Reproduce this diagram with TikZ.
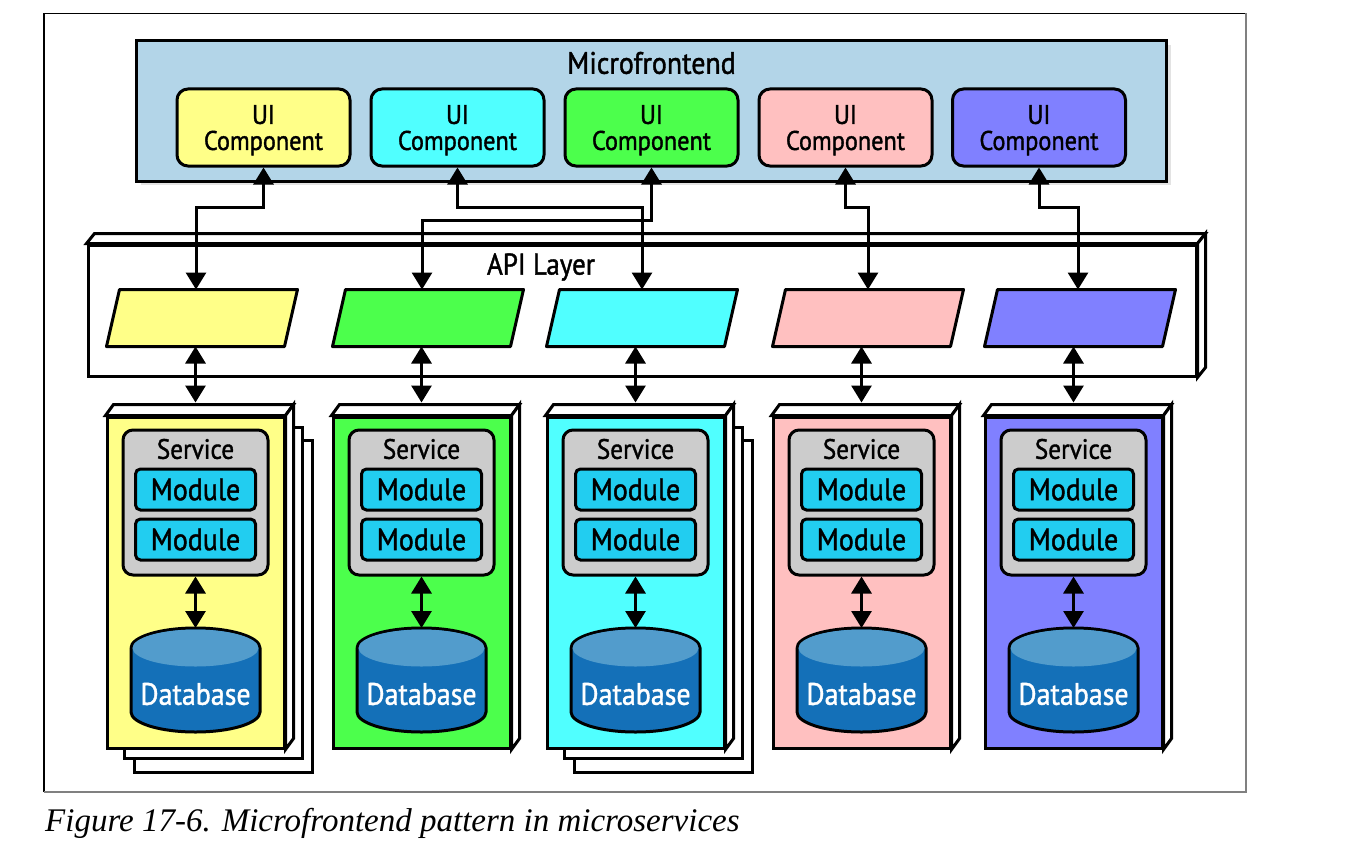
\documentclass[tikz,border=0pt]{standalone}
\usepackage{fontspec}
\setmainfont{Liberation Serif}
\newfontfamily\diagfont{PT Sans}[FakeStretch=0.9, FakeBold=1.3]
\usepackage{tikz}
\usetikzlibrary{arrows.meta, shadows, positioning}
\tikzset{>={Triangle[width=20pt,length=17pt]}}

\definecolor{mfblue}{HTML}{B3D5E8}
\definecolor{yel}{HTML}{FFFF88}
\definecolor{cyn}{HTML}{50FFFF}
\definecolor{grn}{HTML}{4CFF4C}
\definecolor{pnk}{HTML}{FFC0C0}
\definecolor{vio}{HTML}{8080FF}
\definecolor{svcgray}{HTML}{CCCCCC}
\definecolor{modblue}{HTML}{22CDF0}
\definecolor{dbbody}{HTML}{1470B8}
\definecolor{dbtop}{HTML}{529CCC}

\begin{document}
\begin{tikzpicture}[x=1pt,y=-1pt]
    % Define node styles
    \tikzstyle{box} = [draw, line width=3pt, inner sep=0pt]
    \tikzstyle{mfbox} = [box, fill=mfblue, minimum width=1030pt, minimum height=140pt, drop shadow={shadow xshift=4pt, shadow yshift=-4pt, opacity=0.22}]
    \tikzstyle{uibox} = [box, rounded corners=11pt, minimum width=173pt, minimum height=77pt, align=center, text depth=0pt, font=\diagfont\fontsize{27}{26}\selectfont]
    \tikzstyle{title} = [inner sep=0pt, font=\diagfont\fontsize{31}{31}\selectfont]
    \tikzstyle{para} = [inner sep=0pt, outer sep=0pt, minimum width=191pt, minimum height=57pt]
    \tikzstyle{slant} = [line width=3pt, line join=round]
    \tikzstyle{col} = [box, minimum width=177pt, minimum height=331pt]
    \tikzstyle{face} = [fill=white, line width=3pt]
    \tikzstyle{stack} = [fill=white, line width=3pt]
    \tikzstyle{svc} = [box, fill=svcgray, rounded corners=10pt, minimum width=145pt, minimum height=145pt]
    \tikzstyle{svctext} = [inner sep=0pt, font=\diagfont\fontsize{28}{28}\selectfont]
    \tikzstyle{module} = [box, fill=modblue, rounded corners=5pt, minimum width=120pt, minimum height=41pt, font=\diagfont\fontsize{31}{31}\selectfont]
    \tikzstyle{db} = [inner sep=0pt, outer sep=0pt, minimum width=129pt, minimum height=104pt]
    \tikzstyle{dbside} = [line width=3pt, fill=dbbody]
    \tikzstyle{dbtext} = [inner sep=0pt, text=white, font=\diagfont\fontsize{31}{31}\selectfont]
    \tikzstyle{link} = [<->, line width=3pt]

    \useasboundingbox (0,0) rectangle (1348,856);

    % Figure frame
    \draw[line width=1.2pt] (44,792) -- (44,13.5) -- (1246,13.5);
    \draw[line width=1.2pt, gray] (1246,13.5) -- (1246,792) -- (44,792);

    % Microfrontend (mf)
    \node[mfbox] (mf) at (651.5,111) {};
    \node[title] (mftitle) at (651.5,63) {Microfrontend};
    \node[uibox, fill=yel] (ui1) at (263.5,127.5) {UI\\Component};
    \node[uibox, fill=cyn] (ui2) at (457.5,127.5) {UI\\Component};
    \node[uibox, fill=grn] (ui3) at (651.5,127.5) {UI\\Component};
    \node[uibox, fill=pnk] (ui4) at (845.5,127.5) {UI\\Component};
    \node[uibox, fill=vio] (ui5) at (1039,127.5) {UI\\Component};

    % API layer (api)
    \node[box, fill=white, minimum width=1108pt, minimum height=131pt] (api) at (642,310.5) {};
    \draw[face] (api.north west) -- ++(8,-10) -- ([shift={(8,-10)}]api.north east) -- (api.north east) -- cycle;
    \draw[face] (api.north east) -- ++(8,-10) -- ([shift={(8,-10)}]api.south east) -- (api.south east) -- cycle;
    \node[title, font=\diagfont\fontsize{30}{30}\selectfont] (apititle) at (541,267) {API Layer};
    \node[para] (api1) at (202,318) {};
    \node[para] (api2) at (428,318) {};
    \node[para] (api3) at (642,318) {};
    \node[para] (api4) at (868,318) {};
    \node[para] (api5) at (1080,318) {};
    \draw[slant, fill=yel] (api1.south west) -- ([xshift=-13pt]api1.south east) -- (api1.north east) -- ([xshift=13pt]api1.north west) -- cycle;
    \draw[slant, fill=grn] (api2.south west) -- ([xshift=-13pt]api2.south east) -- (api2.north east) -- ([xshift=13pt]api2.north west) -- cycle;
    \draw[slant, fill=cyn] (api3.south west) -- ([xshift=-13pt]api3.south east) -- (api3.north east) -- ([xshift=13pt]api3.north west) -- cycle;
    \draw[slant, fill=pnk] (api4.south west) -- ([xshift=-13pt]api4.south east) -- (api4.north east) -- ([xshift=13pt]api4.north west) -- cycle;
    \draw[slant, fill=vio] (api5.south west) -- ([xshift=-13pt]api5.south east) -- (api5.north east) -- ([xshift=13pt]api5.north west) -- cycle;

    % Arrows from the UI components to the API layer
    \draw[link] (ui1.south) -- ++(0,40) -| ([xshift=-6pt]api1.north);
    \draw[link] (ui2.south) -- ++(0,40) -| (api3.north);
    \draw[link] (ui3.south) -- ++(0,53) -| ([xshift=-6pt]api2.north);
    \draw[link] (ui4.south) -- ++(0,40) -| (api4.north);
    \draw[link] (ui5.south) -- ++(0,40) -| ([xshift=-2pt]api5.north);

    % First service (col1), stacked
    \draw[stack] (134,440) rectangle ++(178,332);
    \draw[stack] (124,427) rectangle ++(178,331);
    \node[col, fill=yel] (col1) at (195.5,582.5) {};
    \draw[face] (col1.north west) -- ++(8,-11) -- ([shift={(8,-11)}]col1.north east) -- (col1.north east) -- cycle;
    \draw[face] (col1.north east) -- ++(8,-11) -- ([shift={(8,-11)}]col1.south east) -- (col1.south east) -- cycle;
    \node[svc] (svc1) at (195.5,502.5) {};
    \node[svctext] (svct1) at (195.5,449) {Service};
    \node[module] (mod1a) at (195.5,489.5) {Module};
    \node[module, below=6pt of mod1a] (mod1b) {Module};
    \node[db] (db1) at (195.5,680) {};
    \draw[dbside] ([yshift=-20pt]db1.north west) -- ([yshift=20pt]db1.south west) arc[start angle=180, end angle=360, x radius=64.5pt, y radius=20pt] -- ([yshift=-20pt]db1.north east) arc[start angle=0, end angle=180, x radius=64.5pt, y radius=20pt];
    \fill[dbtop] ([yshift=-20pt]db1.north) ellipse[x radius=63pt, y radius=18.5pt];
    \node[dbtext] (dbt1) at (195.5,694) {Database};
    \draw[link] (svc1) -- (db1);

    % Second service (col2)
    \node[col, fill=grn] (col2) at (421.5,582.5) {};
    \draw[face] (col2.north west) -- ++(8,-11) -- ([shift={(8,-11)}]col2.north east) -- (col2.north east) -- cycle;
    \draw[face] (col2.north east) -- ++(8,-11) -- ([shift={(8,-11)}]col2.south east) -- (col2.south east) -- cycle;
    \node[svc] (svc2) at (421.5,502.5) {};
    \node[svctext] (svct2) at (421.5,449) {Service};
    \node[module] (mod2a) at (421.5,489.5) {Module};
    \node[module, below=6pt of mod2a] (mod2b) {Module};
    \node[db] (db2) at (421.5,680) {};
    \draw[dbside] ([yshift=-20pt]db2.north west) -- ([yshift=20pt]db2.south west) arc[start angle=180, end angle=360, x radius=64.5pt, y radius=20pt] -- ([yshift=-20pt]db2.north east) arc[start angle=0, end angle=180, x radius=64.5pt, y radius=20pt];
    \fill[dbtop] ([yshift=-20pt]db2.north) ellipse[x radius=63pt, y radius=18.5pt];
    \node[dbtext] (dbt2) at (421.5,694) {Database};
    \draw[link] (svc2) -- (db2);

    % Third service (col3), stacked
    \draw[stack] (574,440) rectangle ++(178,332);
    \draw[stack] (564,427) rectangle ++(178,331);
    \node[col, fill=cyn] (col3) at (635.5,582.5) {};
    \draw[face] (col3.north west) -- ++(8,-11) -- ([shift={(8,-11)}]col3.north east) -- (col3.north east) -- cycle;
    \draw[face] (col3.north east) -- ++(8,-11) -- ([shift={(8,-11)}]col3.south east) -- (col3.south east) -- cycle;
    \node[svc] (svc3) at (635.5,502.5) {};
    \node[svctext] (svct3) at (635.5,449) {Service};
    \node[module] (mod3a) at (635.5,489.5) {Module};
    \node[module, below=6pt of mod3a] (mod3b) {Module};
    \node[db] (db3) at (635.5,680) {};
    \draw[dbside] ([yshift=-20pt]db3.north west) -- ([yshift=20pt]db3.south west) arc[start angle=180, end angle=360, x radius=64.5pt, y radius=20pt] -- ([yshift=-20pt]db3.north east) arc[start angle=0, end angle=180, x radius=64.5pt, y radius=20pt];
    \fill[dbtop] ([yshift=-20pt]db3.north) ellipse[x radius=63pt, y radius=18.5pt];
    \node[dbtext] (dbt3) at (635.5,694) {Database};
    \draw[link] (svc3) -- (db3);

    % Fourth service (col4)
    \node[col, fill=pnk] (col4) at (861.5,582.5) {};
    \draw[face] (col4.north west) -- ++(8,-11) -- ([shift={(8,-11)}]col4.north east) -- (col4.north east) -- cycle;
    \draw[face] (col4.north east) -- ++(8,-11) -- ([shift={(8,-11)}]col4.south east) -- (col4.south east) -- cycle;
    \node[svc] (svc4) at (861.5,502.5) {};
    \node[svctext] (svct4) at (861.5,449) {Service};
    \node[module] (mod4a) at (861.5,489.5) {Module};
    \node[module, below=6pt of mod4a] (mod4b) {Module};
    \node[db] (db4) at (861.5,680) {};
    \draw[dbside] ([yshift=-20pt]db4.north west) -- ([yshift=20pt]db4.south west) arc[start angle=180, end angle=360, x radius=64.5pt, y radius=20pt] -- ([yshift=-20pt]db4.north east) arc[start angle=0, end angle=180, x radius=64.5pt, y radius=20pt];
    \fill[dbtop] ([yshift=-20pt]db4.north) ellipse[x radius=63pt, y radius=18.5pt];
    \node[dbtext] (dbt4) at (861.5,694) {Database};
    \draw[link] (svc4) -- (db4);

    % Fifth service (col5)
    \node[col, fill=vio] (col5) at (1073.5,582.5) {};
    \draw[face] (col5.north west) -- ++(8,-11) -- ([shift={(8,-11)}]col5.north east) -- (col5.north east) -- cycle;
    \draw[face] (col5.north east) -- ++(8,-11) -- ([shift={(8,-11)}]col5.south east) -- (col5.south east) -- cycle;
    \node[svc] (svc5) at (1073.5,502.5) {};
    \node[svctext] (svct5) at (1073.5,449) {Service};
    \node[module] (mod5a) at (1073.5,489.5) {Module};
    \node[module, below=6pt of mod5a] (mod5b) {Module};
    \node[db] (db5) at (1073.5,680) {};
    \draw[dbside] ([yshift=-20pt]db5.north west) -- ([yshift=20pt]db5.south west) arc[start angle=180, end angle=360, x radius=64.5pt, y radius=20pt] -- ([yshift=-20pt]db5.north east) arc[start angle=0, end angle=180, x radius=64.5pt, y radius=20pt];
    \fill[dbtop] ([yshift=-20pt]db5.north) ellipse[x radius=63pt, y radius=18.5pt];
    \node[dbtext] (dbt5) at (1073.5,694) {Database};
    \draw[link] (svc5) -- (db5);

    % Arrows between the API layer and the services
    \draw[link] (col1.north |- api1.south) -- ([yshift=13pt]col1.north);
    \draw[link] (col2.north |- api2.south) -- ([yshift=13pt]col2.north);
    \draw[link] (col3.north |- api3.south) -- ([yshift=13pt]col3.north);
    \draw[link] (col4.north |- api4.south) -- ([yshift=13pt]col4.north);
    \draw[link] (col5.north |- api5.south) -- ([yshift=13pt]col5.north);

    % Caption
    \node[anchor=base west, inner sep=0pt, font=\fontsize{33}{33}\selectfont\itshape] (caption) at (45,831) {Figure 17-6. Microfrontend pattern in microservices};
\end{tikzpicture}
\end{document}
